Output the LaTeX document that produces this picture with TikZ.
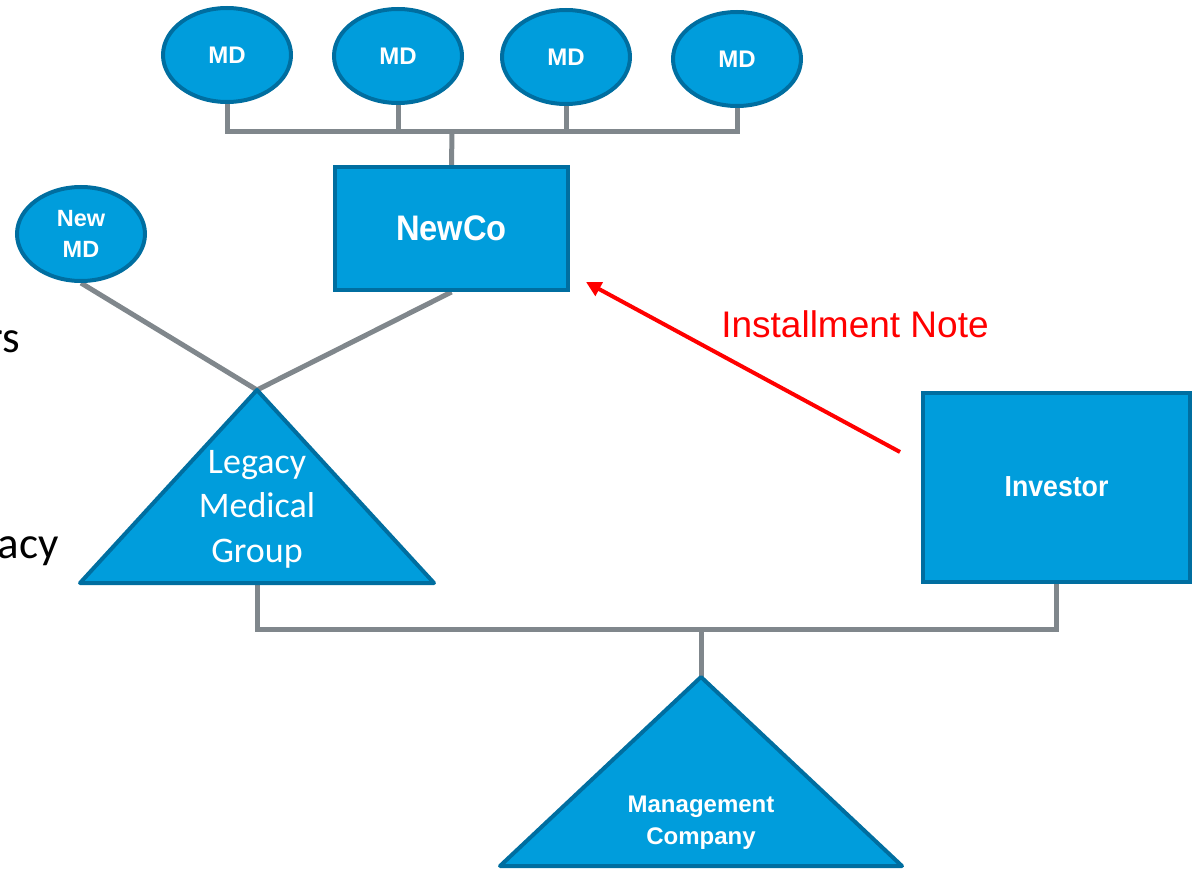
\documentclass[tikz,border=0pt]{standalone}
\usepackage{fontspec}
\setmainfont{Liberation Sans}
\newfontfamily\lightfont{Carlito}
\newfontfamily\condfont[FakeStretch=0.92]{Liberation Sans}
\usetikzlibrary{arrows.meta,shapes.geometric,backgrounds}
\definecolor{boxblue}{RGB}{0,157,220}
\definecolor{boxedge}{RGB}{0,110,160}
\definecolor{linegray}{RGB}{128,135,140}
\definecolor{notered}{RGB}{255,0,0}
\begin{document}
\begin{tikzpicture}[x=1pt,y=-1pt,
  shapeline/.style={draw=boxedge,line width=4pt,fill=boxblue},
  mdnode/.style={shapeline,ellipse,minimum width=128pt,minimum height=94pt,inner sep=0pt,
    text=white,align=center,font=\bfseries\fontsize{24}{31}\selectfont},
  boxnode/.style={shapeline,rectangle,inner sep=0pt,text=white,font=\condfont\bfseries\fontsize{29}{32}\selectfont},
  whitetext/.style={text=white,inner sep=0pt,align=center},
  sidetext/.style={inner sep=0pt,anchor=base east,font=\lightfont\fontsize{45}{50}\selectfont},
  conn/.style={draw=linegray,line width=5pt},
  notearrow/.style={draw=notered,line width=4pt,-{Triangle[length=15pt,width=15pt]}},
]
\useasboundingbox (0,0) rectangle (1194,869);

% MD ellipses
\node[mdnode] (md1) at (227,55) {MD};
\node[mdnode] (md2) at (398,56) {MD};
\node[mdnode] (md3) at (566,57) {MD};
\node[mdnode] (md4) at (737,59) {MD};
\node[mdnode,font=\bfseries\fontsize{23.5}{31}\selectfont] (newmd) at (81,234) {New\\MD};

% NewCo and Investor
\node[boxnode,minimum width=233pt,minimum height=123pt,font=\condfont\bfseries\fontsize{35.5}{40}\selectfont] (newco) at (451.5,228.5) {NewCo};
\node[boxnode,minimum width=267pt,minimum height=189pt] (investor) at (1056.5,487) {Investor};

% Legacy Medical Group triangle
\coordinate (lgTop) at (257,390);
\coordinate (lgL) at (80,583);
\coordinate (lgR) at (434,583);
\coordinate (lgBase) at (257,583);
\draw[shapeline,line join=round] (lgTop) -- (lgR) -- (lgL) -- cycle;
\node[whitetext,font=\lightfont\fontsize{36}{44.5}\selectfont] (legacy) at (257,509) {Legacy\\Medical\\Group};

% Management Company triangle
\coordinate (mgTop) at (701,677);
\coordinate (mgL) at (500,866);
\coordinate (mgR) at (902,866);
\draw[shapeline,line join=round] (mgTop) -- (mgR) -- (mgL) -- cycle;
\node[whitetext,font=\bfseries\fontsize{24}{32}\selectfont] (mgmt) at (701,823) {Management\\Company};

% Connectors
\coordinate (mdbus) at (452,132);
\coordinate (mbus) at (701,629);
\begin{scope}[on background layer]
  \draw[conn] (md1.south) -- (md1.south |- mdbus) -- (md4.south |- mdbus) -- (md4.south);
  \draw[conn] (md2.south) -- (md2.south |- mdbus);
  \draw[conn] (md3.south) -- (md3.south |- mdbus);
  \draw[conn] (mdbus) -- (newco.north);
  \draw[conn] (newmd.south) -- (lgTop);
  \draw[conn] (newco.south) -- (lgTop);
  \draw[conn] (lgBase) |- (mbus) -| (investor.south);
  \draw[conn] (mbus) -- (mgTop);
\end{scope}

% Installment note arrow
\coordinate (noteStart) at (900,452);
\coordinate (noteEnd) at (586,282);
\draw[notearrow] (noteStart) -- (noteEnd);
\node[text=notered,inner sep=0pt,font=\fontsize{37}{42}\selectfont] (notelabel) at (855,324) {Installment Note};

% Cut-off side texts
\node[sidetext] (siders) at (20,352) {rs};
\node[sidetext] (sideacy) at (59,558) {acy};
\end{tikzpicture}
\end{document}
